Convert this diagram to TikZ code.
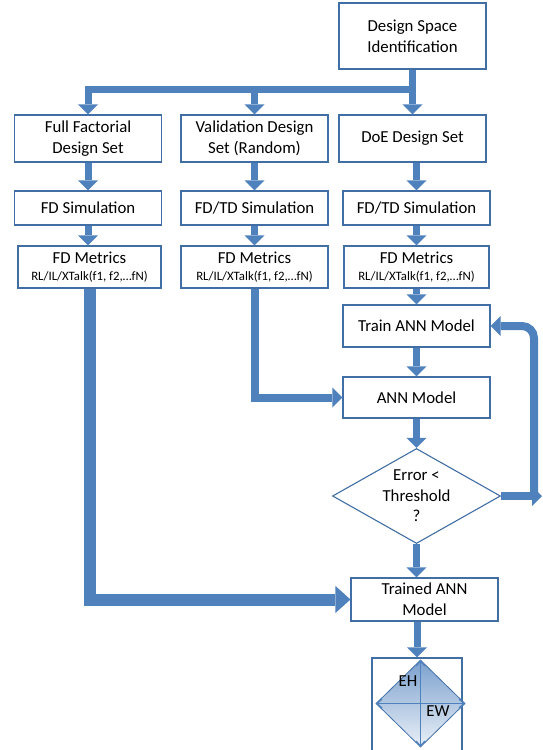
\documentclass[tikz,border=0pt]{standalone}
\usepackage{fontspec}
\setmainfont{Carlito}
\usepackage{tikz}
\usetikzlibrary{arrows.meta,shapes.geometric}
\definecolor{flowblue}{RGB}{79,129,189}
\definecolor{edgeblue}{RGB}{65,110,165}

\begin{document}
\begin{tikzpicture}[
    x=1pt, y=-1pt,
    box/.style={draw=edgeblue, line width=1.1pt, fill=white, align=center, inner sep=0pt, minimum width=147pt, minimum height=34pt, font=\fontsize{16.8}{21}\selectfont},
    flow/.style={draw=flowblue, line width=7pt, -{Triangle[width=20pt,length=10pt,line width=0pt]}},
    bigflow/.style={draw=flowblue, line width=12pt, -{Triangle[width=27pt,length=15pt,line width=0pt]}},
    sizearrow/.style={draw=flowblue, line width=1.6pt, {Straight Barb[length=5pt,width=9pt]}-{Straight Barb[length=5pt,width=9pt]}},
    lbl/.style={font=\fontsize{16.8}{18}\selectfont, inner sep=0pt}
  ]
    \useasboundingbox (0,0) rectangle (542,750);
    \newcommand{\metric}{{\fontsize{12.8}{15}\selectfont RL/IL/XTalk(f1, f2,…fN)}}

    % top of the flow
    \node[box, minimum height=66pt] (dsi) at (412.5,36) {Design Space\\Identification};
    \node[box, minimum height=47pt] (ffd) at (88,138.5) {Full Factorial\\Design Set};
    \node[box, minimum height=47pt] (vds) at (254.5,138.5) {Validation Design\\Set (Random)};
    \node[box, minimum height=47pt] (doe) at (412.5,138.5) {DoE Design Set};

    \node[box] (fdsim) at (88,208) {FD Simulation};
    \node[box] (vsim) at (254.5,208) {FD/TD Simulation};
    \node[box] (dsim) at (416.5,208) {FD/TD Simulation};

    \node[box, minimum height=42pt, minimum width=143pt] (fdm) at (89.5,267) {FD Metrics\\[-4pt]\metric};
    \node[box, minimum height=42pt] (vm) at (254.5,267) {FD Metrics\\[-4pt]\metric};
    \node[box, minimum height=42pt, minimum width=145pt] (dm) at (416.5,267) {FD Metrics\\[-4pt]\metric};

    % training loop
    \node[box, minimum height=42pt] (train) at (416.5,326) {Train ANN Model};
    \node[box, minimum height=41pt] (ann) at (416.5,397.5) {ANN Model};
    \node[box, diamond, aspect=1.77, inner sep=-5pt, minimum width=168pt, minimum height=95pt, font=\fontsize{16.8}{20.5}\selectfont] (err) at (416.5,496) {Error <\\Threshold\\?};
    \node[box, minimum height=43pt] (trained) at (424.5,599.5) {Trained ANN\\Model};

    % EH / EW sketch
    \node[draw=edgeblue, line width=1.1pt, minimum width=90pt, minimum height=98pt, inner sep=0pt] (frame) at (417,707) {};
    \node[diamond, draw=edgeblue, line width=0.8pt, top color=flowblue!75, bottom color=flowblue!12, minimum width=89pt, minimum height=87pt, inner sep=0pt] (gap) at (420.5,703.5) {};
    \draw[sizearrow] (gap.north) -- (gap.south);
    \draw[sizearrow] (gap.west) -- (gap.east);
    \node[lbl] (eh) at (408,681) {EH};
    \node[lbl] (ew) at (438,711) {EW};

    \coordinate (bus) at (412.5,89);
    \coordinate (loopx) at (534,496);
    \coordinate (loopend) at (542,496);

    \draw[flow] (dsi.south) -- (dsi.south |- doe.north);
    \draw[flow] (bus) -| (ffd.north);
    \draw[flow] (vds.north |- bus) -- (vds.north);

    \draw[flow] (ffd) -- (fdsim);
    \draw[flow] (vds) -- (vsim);
    \draw[flow] (doe.south -| dsim.north) -- (dsim.north);
    \draw[flow] (fdsim.south) -- (fdsim.south |- fdm.north);
    \draw[flow] (vsim) -- (vm);
    \draw[flow] (dsim) -- (dm);
    \draw[flow] (dm) -- (train);
    \draw[flow] (train) -- (ann);
    \draw[flow] (ann) -- (err);
    \draw[flow] (err.south) -- (err.south |- trained.north);
    \draw[flow] (trained.south -| frame.north) -- (frame.north);

    \draw[flow, line width=8pt] (vm.south) |- (ann.west);
    \draw[bigflow] (fdm.south) |- (trained.west);
    \draw[flow, line width=8pt] (err.east) -- (loopend);
    \draw[flow, line width=8pt, rounded corners=12pt] (loopx) |- (train.east);
  \end{tikzpicture}
\end{document}
